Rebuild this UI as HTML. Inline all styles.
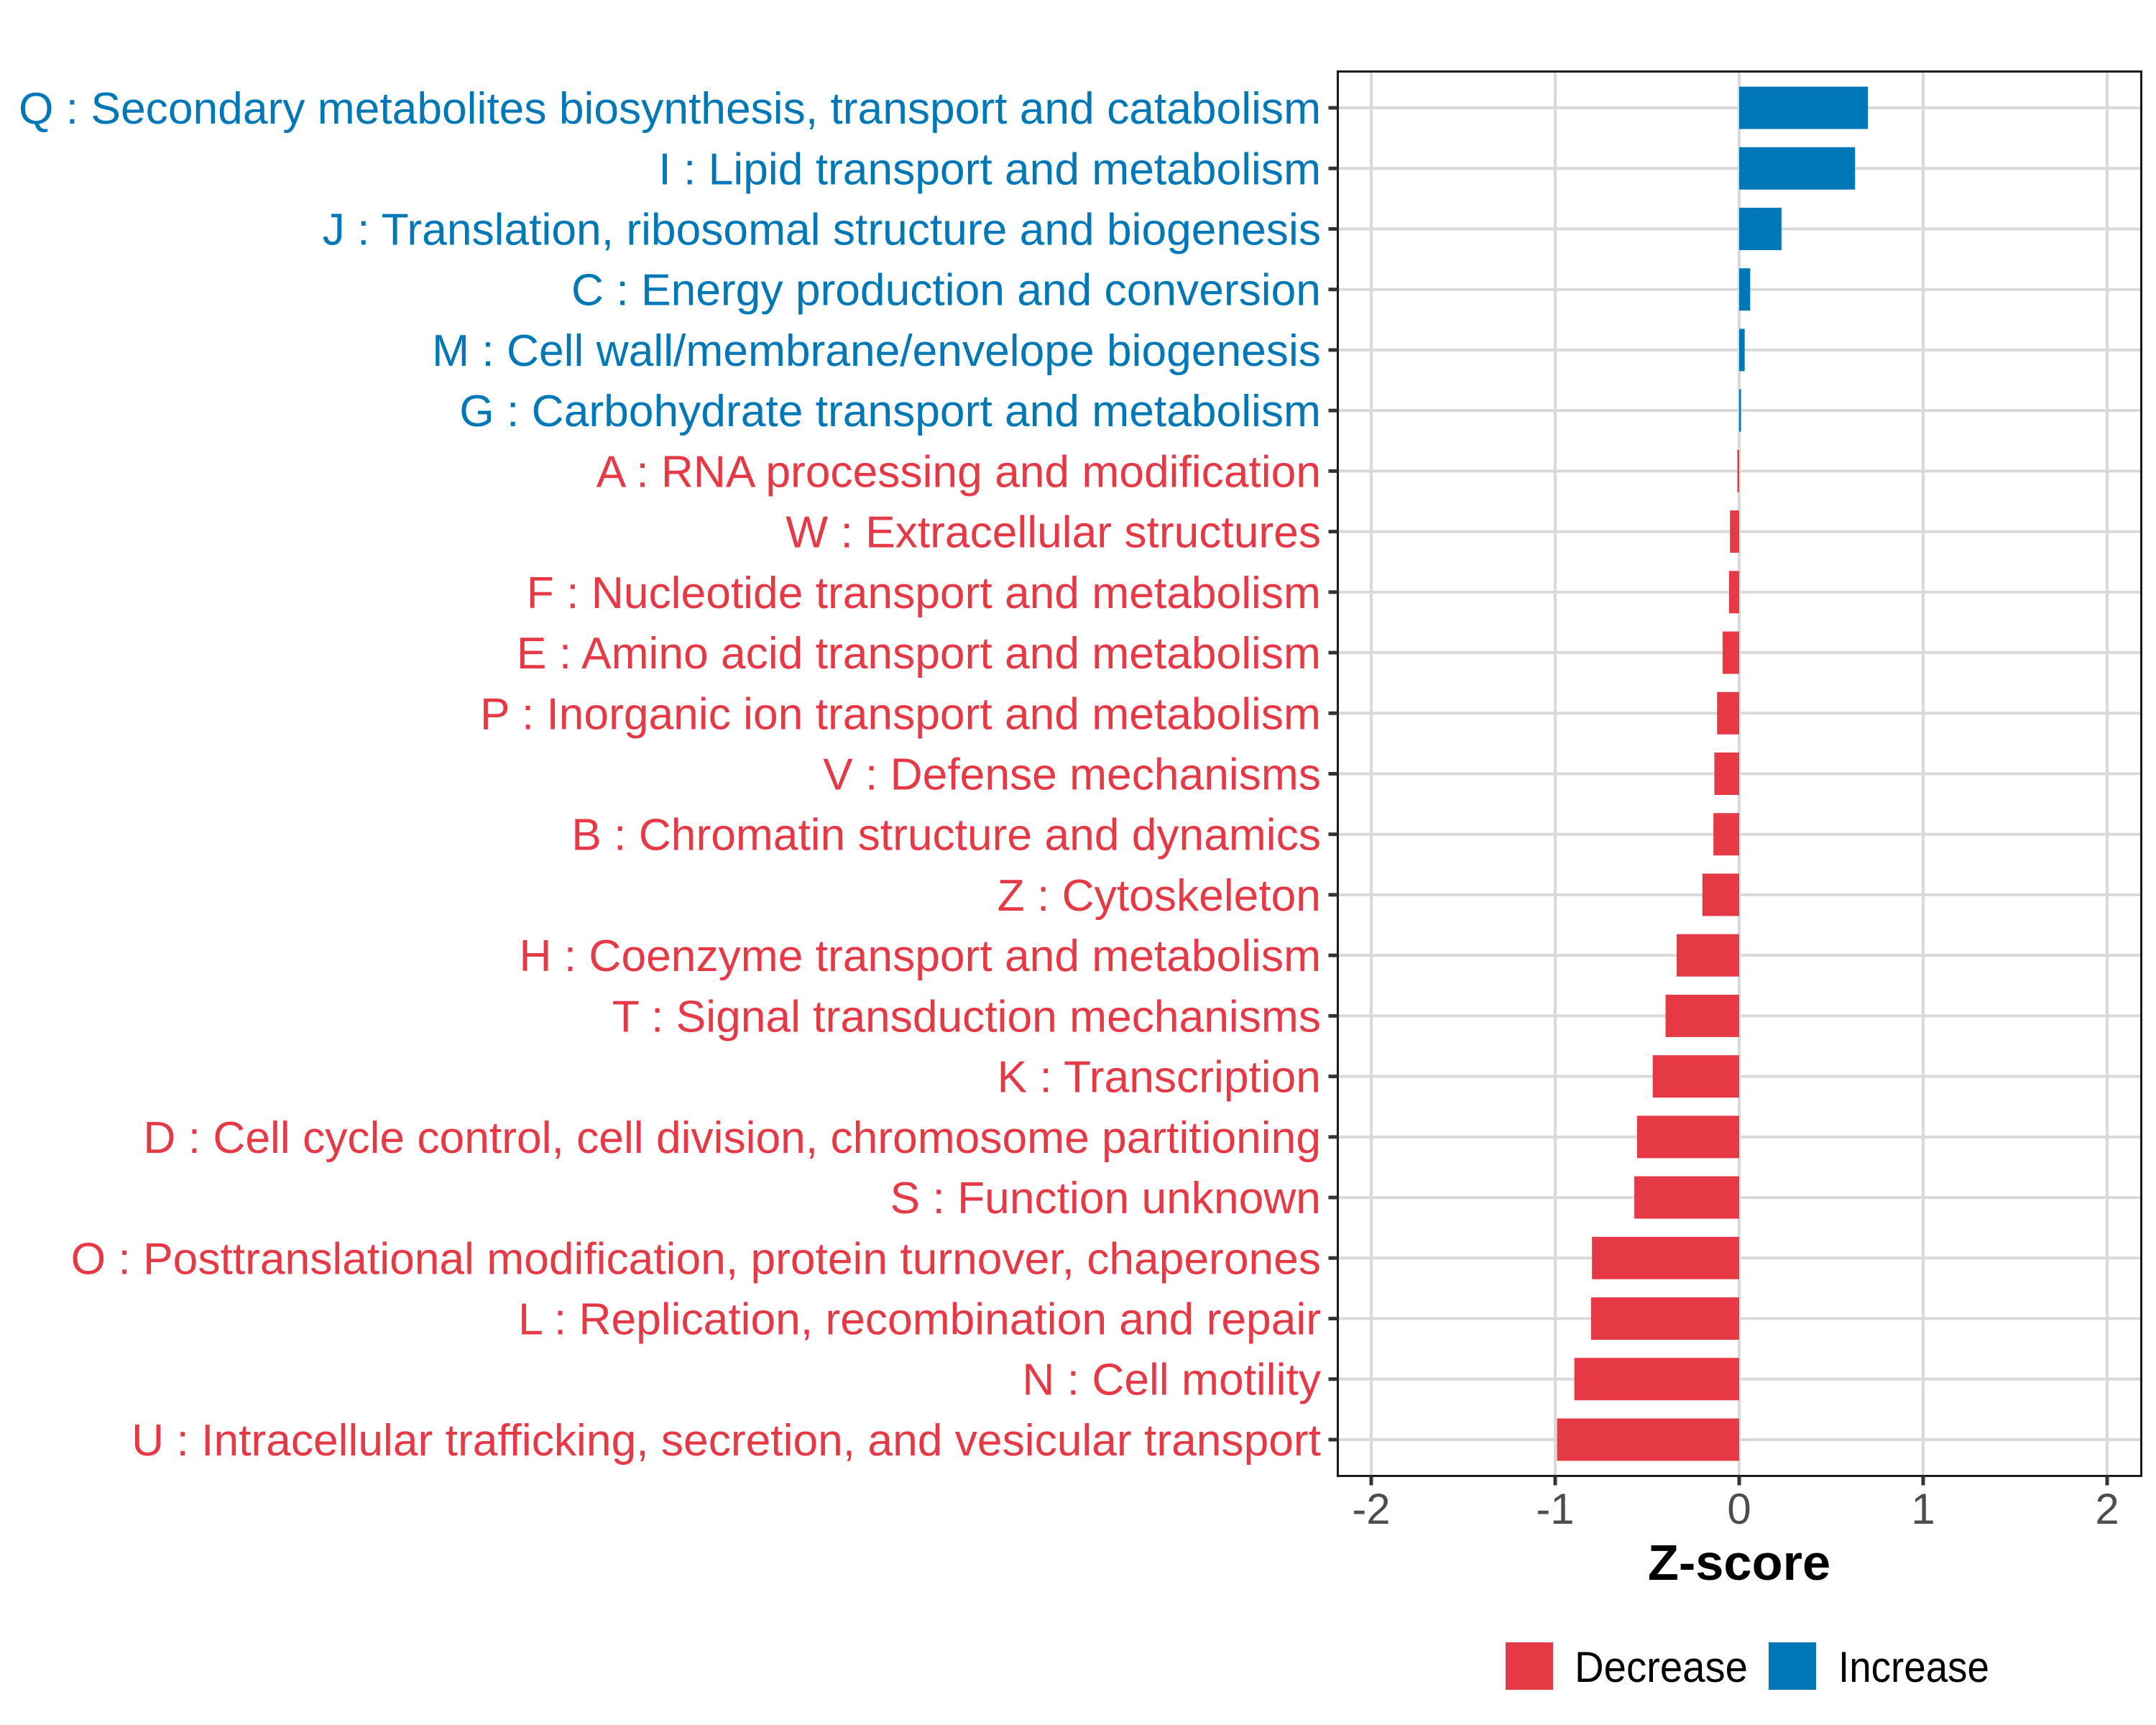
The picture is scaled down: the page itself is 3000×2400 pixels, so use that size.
<!DOCTYPE html>
<html><head><meta charset="utf-8">
<style>
html,body{margin:0;padding:0;background:#fff;}
svg{display:block;}
text{font-family:"Liberation Sans",Arial,sans-serif;}
</style></head>
<body>
<svg id="chart" width="3000" height="2400" viewBox="0 0 3000 2400" xmlns="http://www.w3.org/2000/svg">
<rect x="0" y="0" width="3000" height="2400" fill="#fff"/>
<g id="grid"></g>
<g id="bars"></g>
<rect x="1861.5" y="99.5" width="1118" height="1954" fill="none" stroke="#1a1a1a" stroke-width="3"/>
<g id="yaxis"></g>
<g id="xaxis"></g>
<text id="xtitle" x="2420" y="2198" text-anchor="middle" font-size="70" font-weight="bold" fill="#000">Z-score</text>
<g>
<rect x="2095" y="2285" width="66" height="66" fill="#E63946"/>
<text x="2191" y="2340" font-size="60" fill="#000" textLength="241" lengthAdjust="spacingAndGlyphs">Decrease</text>
<rect x="2461" y="2285" width="66" height="66" fill="#0077B6"/>
<text x="2558" y="2340" font-size="60" fill="#000" textLength="210" lengthAdjust="spacingAndGlyphs">Increase</text>
</g>
</svg>
<script>
const categories = [
"Q : Secondary metabolites biosynthesis, transport and catabolism",
"I : Lipid transport and metabolism",
"J : Translation, ribosomal structure and biogenesis",
"C : Energy production and conversion",
"M : Cell wall/membrane/envelope biogenesis",
"G : Carbohydrate transport and metabolism",
"A : RNA processing and modification",
"W : Extracellular structures",
"F : Nucleotide transport and metabolism",
"E : Amino acid transport and metabolism",
"P : Inorganic ion transport and metabolism",
"V : Defense mechanisms",
"B : Chromatin structure and dynamics",
"Z : Cytoskeleton",
"H : Coenzyme transport and metabolism",
"T : Signal transduction mechanisms",
"K : Transcription",
"D : Cell cycle control, cell division, chromosome partitioning",
"S : Function unknown",
"O : Posttranslational modification, protein turnover, chaperones",
"L : Replication, recombination and repair",
"N : Cell motility",
"U : Intracellular trafficking, secretion, and vesicular transport"
];
const zscores = [0.70,0.63,0.23,0.06,0.03,0.01,-0.01,-0.05,-0.055,-0.09,-0.12,-0.135,-0.14,-0.20,-0.34,-0.40,-0.47,-0.555,-0.57,-0.80,-0.805,-0.896,-0.99];
const xTicks = [-2,-1,0,1,2];
const xTickLabels = ["-2","-1","0","1","2"];

const NS="http://www.w3.org/2000/svg";
const PL=1861.5, PR=2979.5, PT=99.5, PB=2053.5;
const X0=2420, XU=256;
const xs = v => X0 + v*XU;
const step = (PB-PT)/(categories.length-1+1.2);
const ys = i => PT + step*0.6 + i*step;
const barH = step*0.7;
const BLUE="#0077B6", RED="#E63946";
function mk(tag, attrs, parent){const e=document.createElementNS(NS,tag);for(const k in attrs)e.setAttribute(k,attrs[k]);parent.appendChild(e);return e;}

const grid=document.getElementById('grid');
xTicks.forEach((t,i)=>{
  const l=mk('line',{x1:xs(t),x2:xs(t),y1:PT,y2:PB,stroke:'#d9d9d9','stroke-width':4},grid);
  
  
});
categories.forEach((c,i)=>{
  const l=mk('line',{x1:PL,x2:PR,y1:ys(i),y2:ys(i),stroke:'#d9d9d9','stroke-width':4},grid);
  
  
});

const bars=document.getElementById('bars');
zscores.forEach((v,i)=>{
  const x=Math.min(xs(0),xs(v)), w=Math.abs(xs(v)-xs(0));
  const r=mk('rect',{x:x,y:ys(i)-barH/2,width:Math.max(w,1.5),height:barH,fill:v>=0?BLUE:RED},bars);
  
  
});

const ya=document.getElementById('yaxis');
const labels=[];
categories.forEach((c,i)=>{
  const tk=mk('line',{x1:PL-13,x2:PL,y1:ys(i),y2:ys(i),stroke:'#333','stroke-width':5},ya);
  
  
  const t=mk('text',{x:1838,y:ys(i)+22,'text-anchor':'end','font-size':62,fill:zscores[i]>=0?BLUE:RED},ya);
  t.textContent=c;
  
  
  labels.push(t);
});
const xa=document.getElementById('xaxis');
xTicks.forEach((t,i)=>{
  const tk=mk('line',{x1:xs(t),x2:xs(t),y1:PB,y2:PB+13,stroke:'#333','stroke-width':5},xa);
  
  
  const tx=mk('text',{x:xs(t),y:2120,'text-anchor':'middle','font-size':60,fill:'#4d4d4d'},xa);
  tx.textContent=xTickLabels[i];
  
  
});
const natural=labels[0].getComputedTextLength();
const f = natural>0 ? 1812/natural : 1;
const all=[...labels, document.getElementById('xtitle')];
all.forEach(t=>{const w=t.getComputedTextLength(); if(w>0){t.setAttribute('textLength',w*f);t.setAttribute('lengthAdjust','spacingAndGlyphs');}});
</script>
</body></html>
